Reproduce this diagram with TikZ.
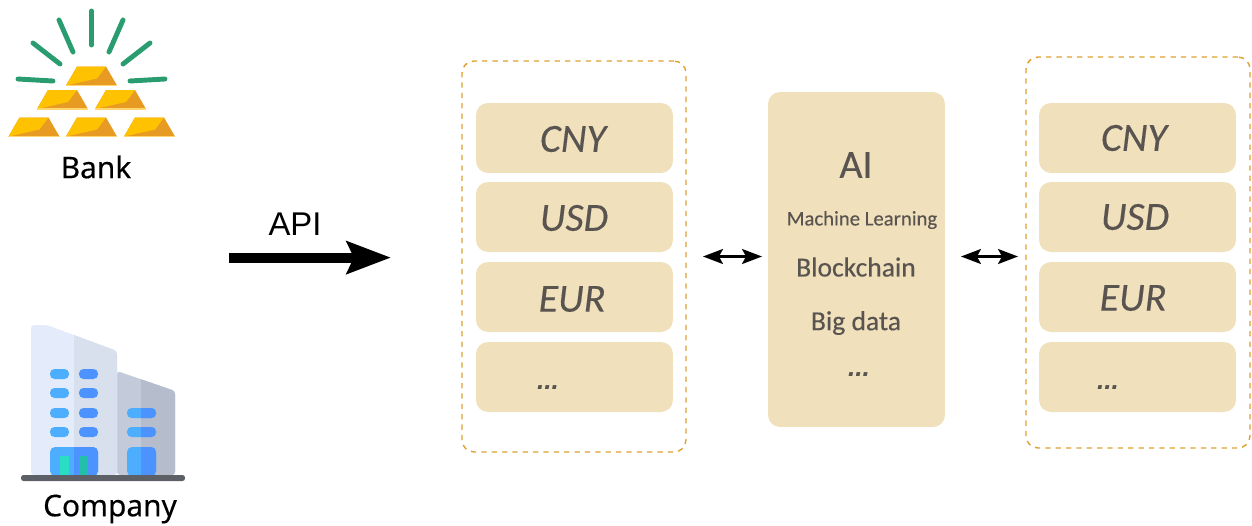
\documentclass[tikz,border=0pt]{standalone}
\usepackage{fontspec}
\setmainfont{Carlito}
\newfontfamily\panelfont[FakeBold=0.25]{Carlito}
\newfontfamily\iconfont[FakeBold=0.25]{Noto Sans}
\newfontfamily\arialfont{Liberation Sans}
\usetikzlibrary{arrows.meta}
\definecolor{panelfill}{HTML}{F0E0BC}
\definecolor{paneltext}{HTML}{595450}
\definecolor{paneldash}{HTML}{DFA030}
\definecolor{raygreen}{HTML}{2A9D70}
\definecolor{goldlight}{HTML}{FFC200}
\definecolor{golddark}{HTML}{E89B23}
\definecolor{goldedge}{HTML}{FFD670}
\definecolor{winlight}{HTML}{4DADFF}
\definecolor{windark}{HTML}{4C93FF}
\tikzset{
    panel/.style={rectangle, draw=paneldash, dash pattern=on 3pt off 2.9pt, line width=0.8pt, rounded corners=0.24cm, minimum width=4.48cm, minimum height=7.82cm, inner sep=0, outer sep=0},
    pill/.style={rectangle, fill=panelfill, rounded corners=0.24cm, minimum width=3.94cm, minimum height=1.4cm, inner sep=0, outer sep=0},
    pilltext/.style={text=paneltext, inner sep=0, font=\panelfont\fontsize{22.7}{26}\selectfont\itshape},
    aibox/.style={rectangle, fill=panelfill, rounded corners=0.24cm, minimum width=3.54cm, minimum height=6.7cm, inner sep=0, outer sep=0},
    aitext/.style={text=paneltext, inner sep=0, font=\panelfont\fontsize{15.7}{18}\selectfont},
    dots/.style={text=paneltext, inner sep=0, font=\arialfont\fontsize{15}{18}\selectfont\itshape\bfseries},
    iconlabel/.style={text=black, inner sep=0, font=\iconfont\fontsize{17}{20}\selectfont},
    biarrow/.style={{Stealth[length=0.4cm,width=0.3cm,inset=0.08cm]}-{Stealth[length=0.4cm,width=0.3cm,inset=0.08cm]}, line width=1.3pt, black},
    apiarrow/.style={-{Stealth[length=0.88cm,width=0.64cm,inset=0.14cm]}, line width=0.2cm, black},
    ray/.style={draw=raygreen, line width=2.8pt, line cap=round}
}
% gold bar, bottom left corner in px
\newcommand{\goldbar}[2]{
    \fill[golddark] (#1,#2) -- ++(11,-19) -- ++(29,0) -- ++(11,19) -- cycle;
    \fill[goldlight] (#1,#2) -- ++(11,-19) -- ++(29,0) -- ++(-9,12) -- cycle;
    \draw[goldedge, line width=0.6pt] (#1,#2) -- ++(51,0);
}
% window or door in two colours
\newcommand{\splitbox}[6]{
    \fill[winlight, rounded corners=#5] (#1,#2) rectangle (#3,#4);
    \begin{scope}
        \clip (#6,#2) rectangle (#3,#4);
        \fill[windark, rounded corners=#5] (#1,#2) rectangle (#3,#4);
    \end{scope}
}
\begin{document}
\begin{tikzpicture}[x=0.02cm, y=-0.02cm]
    \useasboundingbox (0,0) rectangle (1252,525);

    % Bank icon
    \draw[ray] (91.5,11) -- (91.5,45);
    \draw[ray] (59,20) -- (73,52);
    \draw[ray] (123,20) -- (109,52);
    \draw[ray] (33,43) -- (60,64);
    \draw[ray] (150,43) -- (123,64);
    \draw[ray] (18,79) -- (53,81);
    \draw[ray] (165,79) -- (130,81);
    \goldbar{66}{85.5}
    \goldbar{37}{109}
    \goldbar{95}{109}
    \goldbar{8.5}{136.5}
    \goldbar{66}{136.5}
    \goldbar{124}{136.5}
    \node[iconlabel] (BANK) at (96,167) {Bank};

    % Company icon
    \fill[rounded corners=0.06cm, fill={rgb,255:red,195;green,202;blue,218}] (117,475) -- (117,371) -- (175,391) -- (175,475) -- cycle;
    \begin{scope}
        \clip (141,360) rectangle (180,476);
        \fill[rounded corners=0.06cm, fill={rgb,255:red,181;green,188;blue,203}] (117,475) -- (117,371) -- (175,391) -- (175,475) -- cycle;
    \end{scope}
    \fill[rounded corners=0.06cm, fill={rgb,255:red,228;green,236;blue,252}] (31,475) -- (31,325) -- (47,325) -- (117,351) -- (117,475) -- cycle;
    \begin{scope}
        \clip (74,320) rectangle (120,476);
        \fill[rounded corners=0.06cm, fill={rgb,255:red,216;green,224;blue,238}] (31,475) -- (31,325) -- (47,325) -- (117,351) -- (117,475) -- cycle;
    \end{scope}
    \foreach \winy in {369,388,408,427} {
        \fill[winlight, rounded corners=0.09cm] (50,\winy) rectangle (69,\winy+10);
        \fill[windark, rounded corners=0.09cm] (79,\winy) rectangle (98,\winy+10);
    }
    \foreach \winy in {408,427} {
        \splitbox{127}{\winy}{156}{\winy+10}{0.09cm}{141}
    }
    \splitbox{50}{447}{98}{476}{0.1cm}{74}
    \splitbox{127}{447}{156}{476}{0.1cm}{141}
    \fill[fill={rgb,255:red,44;green,221;blue,197}] (60,456) rectangle (69,476);
    \fill[fill={rgb,255:red,34;green,192;blue,168}] (79,456) rectangle (88,476);
    \fill[rounded corners=0.05cm, fill={rgb,255:red,94;green,96;blue,104}] (21,481) -- (21,475) -- (185,475) -- (185,481) -- cycle;
    \node[iconlabel] (COMPANY) at (110,509) {Company};

    % API arrow
    \node[iconlabel, font=\arialfont\fontsize{18.7}{22}\selectfont] (API) at (295,224.5) {API};
    \coordinate (API_S) at (229,257.6);
    \coordinate (API_E) at (391,257.6);
    \draw[apiarrow] (API_S) -- (API_E);

    % Left panel
    \node[panel] (PANEL_L) at (574,256.5) {};
    \node[pill] (CNY_L) at (574.5,138) {};
    \node[pill] (USD_L) at (574.5,217) {};
    \node[pill] (EUR_L) at (574.5,297) {};
    \node[pill] (ETC_L) at (574.5,377) {};
    \node[pilltext] (CNY_LT) at (573,139) {CNY};
    \node[pilltext] (USD_LT) at (574,218) {USD};
    \node[pilltext] (EUR_LT) at (572,299) {EUR};
    \node[dots] (DOTS_L) at (548,387.7) {.{}.{}.};

    % AI box
    \node[aibox] (AI) at (856.5,259.5) {};
    \node[aitext, font=\panelfont\fontsize{22.7}{26}\selectfont] (AI_T) at (856,165) {AI};
    \node[aitext, font=\panelfont\fontsize{11.8}{15}\selectfont] (ML_T) at (862,220) {Machine Learning};
    \node[aitext] (BC_T) at (856,267) {Blockchain};
    \node[aitext] (BD_T) at (856,323) {Big data};
    \node[dots] (DOTS_M) at (859,375) {.{}.{}.};

    % Right panel
    \node[panel] (PANEL_R) at (1138,252.5) {};
    \node[pill] (CNY_R) at (1137.5,138) {};
    \node[pill] (USD_R) at (1137.5,217) {};
    \node[pill] (EUR_R) at (1137.5,297) {};
    \node[pill] (ETC_R) at (1137.5,377) {};
    \node[pilltext] (CNY_RT) at (1134,138) {CNY};
    \node[pilltext] (USD_RT) at (1135,217) {USD};
    \node[pilltext] (EUR_RT) at (1133,298) {EUR};
    \node[dots] (DOTS_R) at (1108,387.7) {.{}.{}.};

    % Connections
    \draw[biarrow, shorten <=0.34cm, shorten >=0.12cm] (PANEL_L.east) -- (PANEL_L.east -| AI.west);
    \draw[biarrow, shorten <=0.32cm, shorten >=0.16cm] (PANEL_L.east -| AI.east) -- (PANEL_L.east -| PANEL_R.west);
\end{tikzpicture}
\end{document}
